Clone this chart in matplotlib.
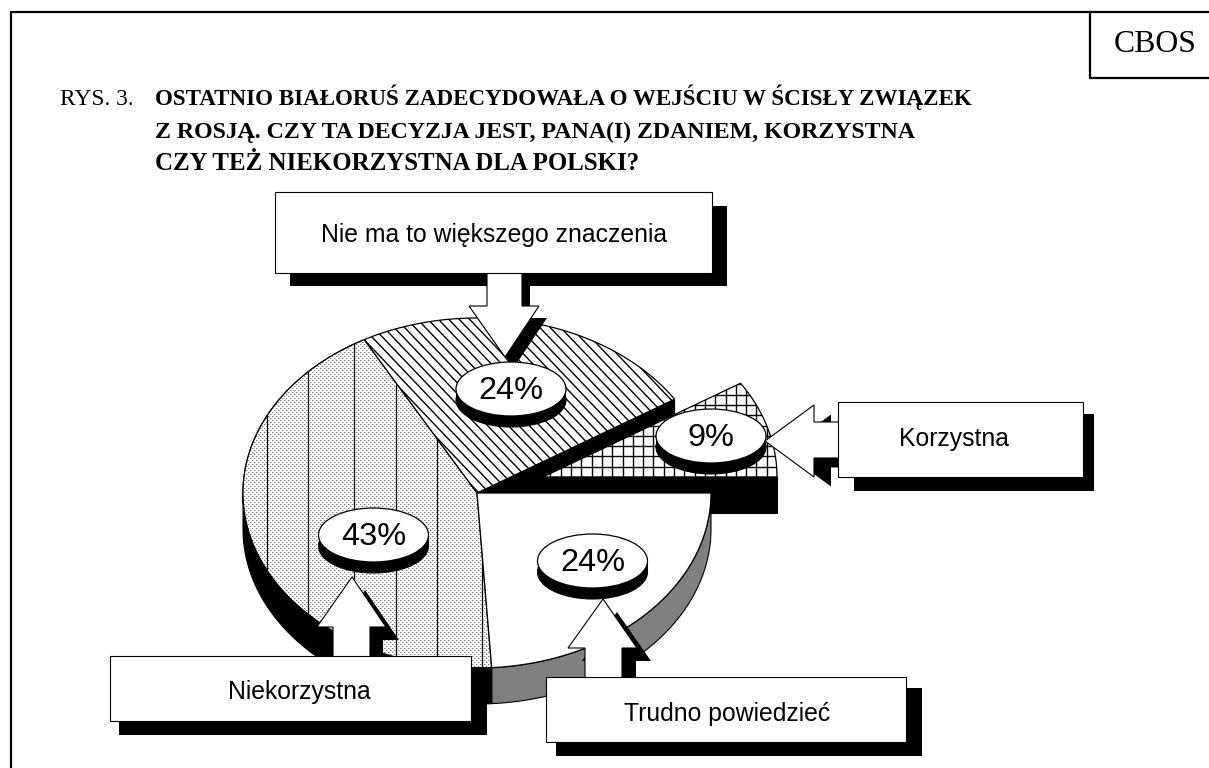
import numpy as np
import matplotlib
matplotlib.use('Agg')
import matplotlib.pyplot as plt
from matplotlib.patches import Polygon, Rectangle, Ellipse
from matplotlib.collections import LineCollection

categories = ['Nie ma to większego znaczenia', 'Korzystna', 'Trudno powiedzieć', 'Niekorzystna']
shares = [24, 9, 24, 43]
pct_labels = ['24%', '9%', '24%', '43%']
title_lines = ['OSTATNIO BIAŁORUŚ ZADECYDOWAŁA O WEJŚCIU W ŚCISŁY ZWIĄZEK',
               'Z ROSJĄ. CZY TA DECYZJA JEST, PANA(I) ZDANIEM, KORZYSTNA',
               'CZY TEŻ NIEKORZYSTNA DLA POLSKI?']

SERIF = 'Liberation Serif'
SANS = 'Liberation Sans'
CX, CY, RX, RY, DEPTH = 477, 493, 234, 175, 36
EX_CX, EX_CY = 543, 477  # exploded slice
START = 118.8

edges = START - np.cumsum([0] + shares) * 3.6

fig = plt.figure(figsize=(12.09, 7.68), dpi=100)
ax = fig.add_axes([0, 0, 1, 1])


def arc(a0, a1, cx=CX, cy=CY, dy=0):
    t = np.radians(np.linspace(a0, a1, 200))
    return np.column_stack([cx + RX * np.cos(t), cy + dy - RY * np.sin(t)])


def wedge(a0, a1, cx=CX, cy=CY, fc='white', z=2):
    pts = np.vstack([[cx, cy], arc(a0, a1, cx, cy)])
    p = Polygon(pts, closed=True, facecolor=fc, edgecolor='black', lw=0.9, zorder=z)
    ax.add_patch(p)
    return p


def side(a0, a1, fc, z):
    pts = np.vstack([arc(a0, a1), arc(a1, a0, dy=DEPTH)])
    ax.add_patch(Polygon(pts, closed=True, facecolor=fc, edgecolor='black', lw=0.8, zorder=z))


def clipped_lines(segs, patch, z, lw=0.9):
    lc = LineCollection(segs, colors='black', linewidths=lw, zorder=z)
    ax.add_collection(lc)
    lc.set_clip_path(patch)


def boxed(x0, y0, x1, y1, sx0, sy0, sx1, sy1, text, tx, ty, z):
    # shadow stays under the arrows, white box over them
    ax.add_patch(Rectangle((sx0, sy0), sx1 - sx0, sy1 - sy0, facecolor='black', edgecolor='none', zorder=5.5))
    ax.add_patch(Rectangle((x0, y0), x1 - x0, y1 - y0, facecolor='white', edgecolor='black', lw=0.8, zorder=z + 0.1))
    ax.text(tx, ty + 2, text, family=SANS, fontsize=17.8, ha='center', va='center', zorder=z + 0.2)


def arrow(pts, off, z):
    pts = np.array(pts, dtype=float)
    ax.add_patch(Polygon(pts + off, closed=True, facecolor='black', edgecolor='none', zorder=z))
    ax.add_patch(Polygon(pts, closed=True, facecolor='white', edgecolor='black', lw=0.8, zorder=z + 0.1))


def disc(cx, cy, label, z):
    ax.add_patch(Ellipse((cx, cy + 11), 110, 54, facecolor='black', edgecolor='black', lw=0.8, zorder=z))
    ax.add_patch(Rectangle((cx - 55, cy), 110, 11, facecolor='black', edgecolor='none', zorder=z))
    ax.add_patch(Ellipse((cx, cy), 110, 54, facecolor='white', edgecolor='black', lw=0.9, zorder=z + 0.1))
    ax.text(cx, cy + 2, label, family=SANS, fontsize=23.4, ha='center', va='center', zorder=z + 0.2)


# side walls
side(max(edges[2], -90), edges[3], '#808080', 1)
side(edges[3], -180, 'black', 1)
ax.add_patch(Polygon(np.array([[CX, CY], arc(edges[1], edges[1])[0], arc(edges[1], edges[1], dy=DEPTH)[0], [CX, CY + DEPTH]]),
                     closed=True, facecolor='black', edgecolor='black', lw=0.8, zorder=1.5))
ax.add_patch(Rectangle((EX_CX, EX_CY), RX, DEPTH, facecolor='black', edgecolor='black', lw=0.8, zorder=3))

# 43% slice: stipple + vertical lines
p43 = wedge(edges[3], edges[4], z=2)
st = np.ones((768, 1209))
st[0::4, 0::4] = 0.5
st[2::4, 2::4] = 0.5
st[0::4, 1::4] = 0.8
st[2::4, 3::4] = 0.8
im = ax.imshow(st, cmap='gray', vmin=0, vmax=1, extent=(0, 1209, 768, 0), aspect='auto',
               interpolation='nearest', zorder=2.1)
im.set_clip_path(p43)
clipped_lines([[(x, 300), (x, 740)] for x in [267, 308, 354, 396, 437, 482]], p43, 2.2)
p43b = Polygon(p43.get_xy(), closed=True, facecolor='none', edgecolor='black', lw=0.9, zorder=2.3)
ax.add_patch(p43b)

# 24% slice: diagonal lines
p24 = wedge(edges[0], edges[1], z=2.5)
clipped_lines([[(x, 300), (x + 300, 615)] for x in np.arange(-100, 800, 10.4)], p24, 2.6, lw=1.0)

# 24% white slice
wedge(edges[2], edges[3], fc='white', z=4)

# 9% exploded slice: grid
p9 = wedge(edges[1], edges[2], EX_CX, EX_CY, z=5)
gx = EX_CX + RX - np.arange(0, 30) * 10.3
gy = EX_CY - np.arange(0, 14) * 10.3
clipped_lines([[(x, 350), (x, 480)] for x in gx] + [[(500, y), (800, y)] for y in gy], p9, 5.1, lw=1.0)

# arrows
arrow([(487, 270), (522, 270), (522, 306), (539, 306), (505, 357), (469, 306), (487, 306)], (8, 12), 6)
arrow([(840, 422), (814, 422), (814, 405), (765, 441), (814, 477), (814, 458), (840, 458)], (17, 9.5), 6)
arrow([(333, 660), (370, 660), (370, 627), (386, 627), (352, 577), (317, 627), (333, 627)], (13, 13), 6)
arrow([(585, 680), (622, 680), (622, 648), (637, 648), (603, 599), (568, 648), (585, 648)], (14, 13), 6)

# discs
disc(511, 389, pct_labels[0], 7)
disc(711, 436, pct_labels[1], 7)
disc(592.5, 561, pct_labels[2], 7)
disc(373.5, 535, pct_labels[3], 7)

# boxes
boxed(275, 192, 712, 273, 290, 206, 727, 286, categories[0], 494, 233, 8)
boxed(838, 402, 1083, 477, 854, 414, 1094, 491, categories[1], 954, 437, 8)
boxed(546, 677, 906, 742, 556, 688, 922, 756, categories[2], 727, 712, 8)
boxed(110, 656, 471, 721, 119, 667, 487, 735, categories[3], 299, 690, 9)

# frame
ax.plot([11, 11, 1209], [768, 12, 12], color='black', lw=1.6, zorder=10, clip_on=False)
ax.plot([1090, 1090, 1209], [12, 78, 78], color='black', lw=1.6, zorder=10, clip_on=False)
ax.text(1155, 45, 'CBOS', family=SERIF, fontsize=22.9, ha='center', va='center', zorder=10)

# title, each line sized to its own width in the scan
ax.text(60, 105, 'RYS. 3.', family=SERIF, fontsize=16.8, va='baseline', zorder=10)
for txt, y, fs in zip(title_lines, [105, 138, 170], [16.6, 17.2, 17.9]):
    ax.text(155, y, txt, family=SERIF, fontsize=fs, fontweight='bold', va='baseline', zorder=10)

ax.set_xlim(0, 1209)
ax.set_ylim(768, 0)
ax.axis('off')
fig.savefig('out.png', dpi=100, facecolor='white')
